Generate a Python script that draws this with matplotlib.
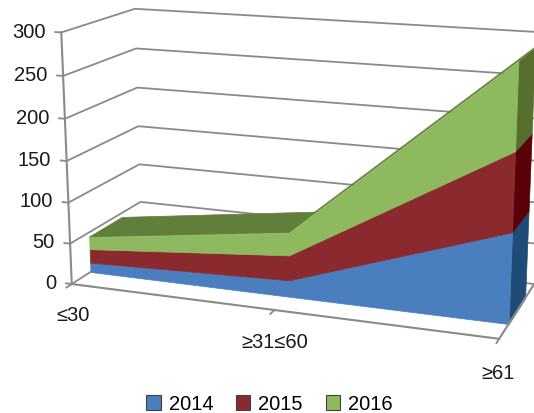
import matplotlib.pyplot as plt
from mpl_toolkits.mplot3d.art3d import Poly3DCollection
from mpl_toolkits.mplot3d import proj3d
from matplotlib.patches import Patch
import numpy as np

plt.rcParams['font.family'] = ['Liberation Sans', 'DejaVu Sans']

categories = ['≤30', '≥31≤60', '≥61']
years = ['2014', '2015', '2016']
v2014 = [12, 20, 105]
v2015 = [17, 30, 90]
v2016 = [15, 27, 97]
yticks = [0, 50, 100, 150, 200, 250, 300]

front_cols = ['#4a7ebf', '#8b2a2e', '#8fb95e']
side_cols = ['#1f4c76', '#5a0008', '#566f2f']
top_col = '#617f3a'
grid_col = '#8a8a8a'
txt_col = '#1a1a1a'
fs = 14.5

W, H = 534, 414
S = 560  # square 3d axes, bigger than the figure so nothing gets clipped
fig = plt.figure(figsize=(W / 100, H / 100), dpi=100)
ax = fig.add_axes([15.4 / W, -35.6 / H, S / W, S / H], projection='3d')
ax.set_axis_off()
ax.computed_zorder = False
ax.view_init(elev=14.6, azim=-70)
ax.set_proj_type('persp', focal_length=0.488)
ax.set_box_aspect((1.709, 0.622, 1.0), zoom=0.935)

nx = len(categories)
xs = np.arange(nx)
x_max = nx - 1
y0, y1 = 0.25, 0.72

ax.set_xlim(0, x_max, view_margin=0)
ax.set_ylim(0, 1, view_margin=0)
ax.set_zlim(0, 300, view_margin=0)


def label(x, y, z, s, **kw):
    # put a flat text at the projected position of a 3d point
    px, py, _ = proj3d.proj_transform(x, y, z, ax.get_proj())
    ax.text2D(px, py, s, transform=ax.transData, fontsize=fs, color=txt_col, **kw)


# gridlines on left + back walls
for v in yticks:
    ax.plot([0, 0, x_max], [0, 1, 1], [v, v, v], color=grid_col, lw=1.3, zorder=1)
    ax.plot([0, -0.03], [0, 0], [v, v], color=grid_col, lw=1.3, zorder=6)
    label(-0.08, 0, v, str(v), ha='right', va='center')

# stacked series
series = [v2014, v2015, v2016]
lo = np.zeros(nx)
tops = []
for k, vals in enumerate(series):
    hi = lo + np.array(vals)
    front = [(xs[i], y0, lo[i]) for i in range(nx)] + [(xs[i], y0, hi[i]) for i in range(nx)][::-1]
    side = [(x_max, y0, lo[-1]), (x_max, y1, lo[-1]), (x_max, y1, hi[-1]), (x_max, y0, hi[-1])]
    pf = Poly3DCollection([front], facecolor=front_cols[k], edgecolor=front_cols[k], lw=0.5)
    pf.set_zorder(4)
    ax.add_collection3d(pf)
    ps = Poly3DCollection([side], facecolor=side_cols[k], edgecolor=side_cols[k], lw=0.5)
    ps.set_zorder(3)
    ax.add_collection3d(ps)
    tops = hi
    lo = hi

top_faces = []
for i in range(nx - 1):
    top_faces.append([(xs[i], y0, tops[i]), (xs[i + 1], y0, tops[i + 1]),
                      (xs[i + 1], y1, tops[i + 1]), (xs[i], y1, tops[i])])
pt = Poly3DCollection(top_faces, facecolor=top_col, edgecolor=top_col, lw=0.5)
pt.set_zorder(2)
ax.add_collection3d(pt)

# axes and floor edges
ax.plot([0, 0], [0, 0], [0, 300], color=grid_col, lw=1.5, zorder=6)
ax.plot([0, x_max, x_max], [0, 0, 1], [0, 0, 0], color=grid_col, lw=1.5, zorder=6)
for i in range(nx):
    ax.plot([xs[i], xs[i]], [0, -0.07], [0, 0], color=grid_col, lw=1.3, zorder=6)
    label(xs[i], 0, -38, categories[i], ha='center', va='center')

handles = [Patch(facecolor=front_cols[k], edgecolor='#404040', lw=0.8, label=years[k]) for k in range(3)]
fig.legend(handles=handles, loc='center', ncol=3, frameon=False, fontsize=fs,
           bbox_to_anchor=(0.505, 9 / H), handlelength=0.7, handleheight=0.7, columnspacing=1.15,
           handletextpad=0.4)

fig.savefig('out.png', dpi=100)
